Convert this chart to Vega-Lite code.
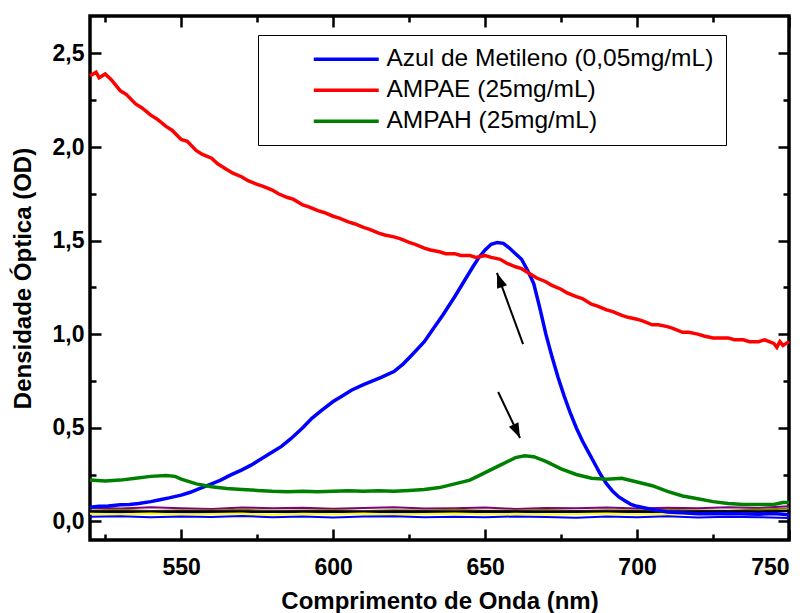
{
  "$schema": "https://vega.github.io/schema/vega-lite/v6.json",
  "width": 699,
  "height": 524,
  "autosize": "none",
  "padding": {"left": 90, "top": 16, "right": 20, "bottom": 73},
  "background": "white",
  "config": {"view": {"stroke": "black", "strokeWidth": 3.5}, "font": "Liberation Sans",
    "axis": {"domain": false, "ticks": false, "grid": true, "gridColor": "black", "gridWidth": 2.5, "gridOpacity": 1, "title": null}},
  "datasets": {
    "main": [
      {"wl":520,"od":0.075,"s":"Azul de Metileno (0,05mg/mL)"},{"wl":523,"od":0.08,"s":"Azul de Metileno (0,05mg/mL)"},{"wl":526,"od":0.082,"s":"Azul de Metileno (0,05mg/mL)"},{"wl":530,"od":0.088,"s":"Azul de Metileno (0,05mg/mL)"},{"wl":533,"od":0.09,"s":"Azul de Metileno (0,05mg/mL)"},{"wl":536,"od":0.095,"s":"Azul de Metileno (0,05mg/mL)"},{"wl":540,"od":0.105,"s":"Azul de Metileno (0,05mg/mL)"},{"wl":543,"od":0.115,"s":"Azul de Metileno (0,05mg/mL)"},{"wl":546,"od":0.125,"s":"Azul de Metileno (0,05mg/mL)"},{"wl":550,"od":0.14,"s":"Azul de Metileno (0,05mg/mL)"},{"wl":553,"od":0.155,"s":"Azul de Metileno (0,05mg/mL)"},{"wl":556,"od":0.175,"s":"Azul de Metileno (0,05mg/mL)"},{"wl":560,"od":0.2,"s":"Azul de Metileno (0,05mg/mL)"},{"wl":563,"od":0.22,"s":"Azul de Metileno (0,05mg/mL)"},{"wl":566,"od":0.245,"s":"Azul de Metileno (0,05mg/mL)"},{"wl":570,"od":0.275,"s":"Azul de Metileno (0,05mg/mL)"},{"wl":573,"od":0.3,"s":"Azul de Metileno (0,05mg/mL)"},{"wl":576,"od":0.33,"s":"Azul de Metileno (0,05mg/mL)"},{"wl":580,"od":0.37,"s":"Azul de Metileno (0,05mg/mL)"},{"wl":583,"od":0.4,"s":"Azul de Metileno (0,05mg/mL)"},{"wl":586,"od":0.44,"s":"Azul de Metileno (0,05mg/mL)"},{"wl":590,"od":0.5,"s":"Azul de Metileno (0,05mg/mL)"},{"wl":593,"od":0.55,"s":"Azul de Metileno (0,05mg/mL)"},{"wl":596,"od":0.59,"s":"Azul de Metileno (0,05mg/mL)"},{"wl":600,"od":0.64,"s":"Azul de Metileno (0,05mg/mL)"},{"wl":603,"od":0.67,"s":"Azul de Metileno (0,05mg/mL)"},{"wl":606,"od":0.7,"s":"Azul de Metileno (0,05mg/mL)"},{"wl":610,"od":0.73,"s":"Azul de Metileno (0,05mg/mL)"},{"wl":613,"od":0.75,"s":"Azul de Metileno (0,05mg/mL)"},{"wl":616,"od":0.77,"s":"Azul de Metileno (0,05mg/mL)"},{"wl":620,"od":0.8,"s":"Azul de Metileno (0,05mg/mL)"},{"wl":623,"od":0.84,"s":"Azul de Metileno (0,05mg/mL)"},{"wl":626,"od":0.89,"s":"Azul de Metileno (0,05mg/mL)"},{"wl":630,"od":0.96,"s":"Azul de Metileno (0,05mg/mL)"},{"wl":633,"od":1.03,"s":"Azul de Metileno (0,05mg/mL)"},{"wl":636,"od":1.1,"s":"Azul de Metileno (0,05mg/mL)"},{"wl":640,"od":1.2,"s":"Azul de Metileno (0,05mg/mL)"},{"wl":643,"od":1.28,"s":"Azul de Metileno (0,05mg/mL)"},{"wl":646,"od":1.36,"s":"Azul de Metileno (0,05mg/mL)"},{"wl":648,"od":1.41,"s":"Azul de Metileno (0,05mg/mL)"},{"wl":650,"od":1.45,"s":"Azul de Metileno (0,05mg/mL)"},{"wl":652,"od":1.48,"s":"Azul de Metileno (0,05mg/mL)"},{"wl":654,"od":1.49,"s":"Azul de Metileno (0,05mg/mL)"},{"wl":656,"od":1.485,"s":"Azul de Metileno (0,05mg/mL)"},{"wl":658,"od":1.46,"s":"Azul de Metileno (0,05mg/mL)"},{"wl":660,"od":1.43,"s":"Azul de Metileno (0,05mg/mL)"},{"wl":662,"od":1.4,"s":"Azul de Metileno (0,05mg/mL)"},{"wl":664,"od":1.34,"s":"Azul de Metileno (0,05mg/mL)"},{"wl":666,"od":1.27,"s":"Azul de Metileno (0,05mg/mL)"},{"wl":668,"od":1.14,"s":"Azul de Metileno (0,05mg/mL)"},{"wl":670,"od":1.0,"s":"Azul de Metileno (0,05mg/mL)"},{"wl":672,"od":0.88,"s":"Azul de Metileno (0,05mg/mL)"},{"wl":674,"od":0.77,"s":"Azul de Metileno (0,05mg/mL)"},{"wl":676,"od":0.67,"s":"Azul de Metileno (0,05mg/mL)"},{"wl":678,"od":0.58,"s":"Azul de Metileno (0,05mg/mL)"},{"wl":680,"od":0.5,"s":"Azul de Metileno (0,05mg/mL)"},{"wl":682,"od":0.43,"s":"Azul de Metileno (0,05mg/mL)"},{"wl":684,"od":0.37,"s":"Azul de Metileno (0,05mg/mL)"},{"wl":686,"od":0.31,"s":"Azul de Metileno (0,05mg/mL)"},{"wl":688,"od":0.25,"s":"Azul de Metileno (0,05mg/mL)"},{"wl":690,"od":0.2,"s":"Azul de Metileno (0,05mg/mL)"},{"wl":692,"od":0.16,"s":"Azul de Metileno (0,05mg/mL)"},{"wl":694,"od":0.13,"s":"Azul de Metileno (0,05mg/mL)"},{"wl":696,"od":0.11,"s":"Azul de Metileno (0,05mg/mL)"},{"wl":698,"od":0.09,"s":"Azul de Metileno (0,05mg/mL)"},{"wl":700,"od":0.08,"s":"Azul de Metileno (0,05mg/mL)"},{"wl":703,"od":0.07,"s":"Azul de Metileno (0,05mg/mL)"},{"wl":706,"od":0.06,"s":"Azul de Metileno (0,05mg/mL)"},{"wl":710,"od":0.05,"s":"Azul de Metileno (0,05mg/mL)"},{"wl":715,"od":0.045,"s":"Azul de Metileno (0,05mg/mL)"},{"wl":720,"od":0.04,"s":"Azul de Metileno (0,05mg/mL)"},{"wl":730,"od":0.042,"s":"Azul de Metileno (0,05mg/mL)"},{"wl":740,"od":0.038,"s":"Azul de Metileno (0,05mg/mL)"},{"wl":745,"od":0.041,"s":"Azul de Metileno (0,05mg/mL)"},{"wl":750,"od":0.035,"s":"Azul de Metileno (0,05mg/mL)"},
      {"wl":520,"od":2.38,"s":"AMPAE (25mg/mL)"},{"wl":522,"od":2.4,"s":"AMPAE (25mg/mL)"},{"wl":523,"od":2.37,"s":"AMPAE (25mg/mL)"},{"wl":525,"od":2.39,"s":"AMPAE (25mg/mL)"},{"wl":527,"od":2.36,"s":"AMPAE (25mg/mL)"},{"wl":530,"od":2.3,"s":"AMPAE (25mg/mL)"},{"wl":532,"od":2.28,"s":"AMPAE (25mg/mL)"},{"wl":535,"od":2.23,"s":"AMPAE (25mg/mL)"},{"wl":537,"od":2.21,"s":"AMPAE (25mg/mL)"},{"wl":540,"od":2.17,"s":"AMPAE (25mg/mL)"},{"wl":542,"od":2.15,"s":"AMPAE (25mg/mL)"},{"wl":545,"od":2.11,"s":"AMPAE (25mg/mL)"},{"wl":547,"od":2.09,"s":"AMPAE (25mg/mL)"},{"wl":550,"od":2.04,"s":"AMPAE (25mg/mL)"},{"wl":552,"od":2.03,"s":"AMPAE (25mg/mL)"},{"wl":555,"od":1.98,"s":"AMPAE (25mg/mL)"},{"wl":557,"od":1.96,"s":"AMPAE (25mg/mL)"},{"wl":560,"od":1.94,"s":"AMPAE (25mg/mL)"},{"wl":562,"od":1.91,"s":"AMPAE (25mg/mL)"},{"wl":565,"od":1.88,"s":"AMPAE (25mg/mL)"},{"wl":567,"od":1.86,"s":"AMPAE (25mg/mL)"},{"wl":570,"od":1.84,"s":"AMPAE (25mg/mL)"},{"wl":572,"od":1.82,"s":"AMPAE (25mg/mL)"},{"wl":575,"od":1.8,"s":"AMPAE (25mg/mL)"},{"wl":577,"od":1.79,"s":"AMPAE (25mg/mL)"},{"wl":580,"od":1.77,"s":"AMPAE (25mg/mL)"},{"wl":582,"od":1.75,"s":"AMPAE (25mg/mL)"},{"wl":585,"od":1.73,"s":"AMPAE (25mg/mL)"},{"wl":587,"od":1.72,"s":"AMPAE (25mg/mL)"},{"wl":590,"od":1.69,"s":"AMPAE (25mg/mL)"},{"wl":592,"od":1.68,"s":"AMPAE (25mg/mL)"},{"wl":595,"od":1.66,"s":"AMPAE (25mg/mL)"},{"wl":597,"od":1.65,"s":"AMPAE (25mg/mL)"},{"wl":600,"od":1.63,"s":"AMPAE (25mg/mL)"},{"wl":602,"od":1.62,"s":"AMPAE (25mg/mL)"},{"wl":605,"od":1.6,"s":"AMPAE (25mg/mL)"},{"wl":607,"od":1.59,"s":"AMPAE (25mg/mL)"},{"wl":610,"od":1.57,"s":"AMPAE (25mg/mL)"},{"wl":612,"od":1.56,"s":"AMPAE (25mg/mL)"},{"wl":615,"od":1.54,"s":"AMPAE (25mg/mL)"},{"wl":617,"od":1.53,"s":"AMPAE (25mg/mL)"},{"wl":620,"od":1.52,"s":"AMPAE (25mg/mL)"},{"wl":622,"od":1.51,"s":"AMPAE (25mg/mL)"},{"wl":625,"od":1.49,"s":"AMPAE (25mg/mL)"},{"wl":627,"od":1.48,"s":"AMPAE (25mg/mL)"},{"wl":630,"od":1.46,"s":"AMPAE (25mg/mL)"},{"wl":632,"od":1.45,"s":"AMPAE (25mg/mL)"},{"wl":635,"od":1.44,"s":"AMPAE (25mg/mL)"},{"wl":637,"od":1.43,"s":"AMPAE (25mg/mL)"},{"wl":640,"od":1.43,"s":"AMPAE (25mg/mL)"},{"wl":642,"od":1.42,"s":"AMPAE (25mg/mL)"},{"wl":645,"od":1.42,"s":"AMPAE (25mg/mL)"},{"wl":647,"od":1.41,"s":"AMPAE (25mg/mL)"},{"wl":650,"od":1.42,"s":"AMPAE (25mg/mL)"},{"wl":652,"od":1.41,"s":"AMPAE (25mg/mL)"},{"wl":655,"od":1.4,"s":"AMPAE (25mg/mL)"},{"wl":657,"od":1.38,"s":"AMPAE (25mg/mL)"},{"wl":660,"od":1.36,"s":"AMPAE (25mg/mL)"},{"wl":662,"od":1.35,"s":"AMPAE (25mg/mL)"},{"wl":665,"od":1.32,"s":"AMPAE (25mg/mL)"},{"wl":667,"od":1.3,"s":"AMPAE (25mg/mL)"},{"wl":670,"od":1.28,"s":"AMPAE (25mg/mL)"},{"wl":672,"od":1.26,"s":"AMPAE (25mg/mL)"},{"wl":675,"od":1.24,"s":"AMPAE (25mg/mL)"},{"wl":677,"od":1.22,"s":"AMPAE (25mg/mL)"},{"wl":680,"od":1.2,"s":"AMPAE (25mg/mL)"},{"wl":682,"od":1.19,"s":"AMPAE (25mg/mL)"},{"wl":685,"od":1.16,"s":"AMPAE (25mg/mL)"},{"wl":687,"od":1.15,"s":"AMPAE (25mg/mL)"},{"wl":690,"od":1.13,"s":"AMPAE (25mg/mL)"},{"wl":692,"od":1.12,"s":"AMPAE (25mg/mL)"},{"wl":695,"od":1.1,"s":"AMPAE (25mg/mL)"},{"wl":697,"od":1.09,"s":"AMPAE (25mg/mL)"},{"wl":700,"od":1.08,"s":"AMPAE (25mg/mL)"},{"wl":702,"od":1.07,"s":"AMPAE (25mg/mL)"},{"wl":705,"od":1.05,"s":"AMPAE (25mg/mL)"},{"wl":707,"od":1.05,"s":"AMPAE (25mg/mL)"},{"wl":710,"od":1.04,"s":"AMPAE (25mg/mL)"},{"wl":712,"od":1.03,"s":"AMPAE (25mg/mL)"},{"wl":715,"od":1.01,"s":"AMPAE (25mg/mL)"},{"wl":717,"od":1.01,"s":"AMPAE (25mg/mL)"},{"wl":720,"od":1.0,"s":"AMPAE (25mg/mL)"},{"wl":722,"od":0.99,"s":"AMPAE (25mg/mL)"},{"wl":725,"od":0.98,"s":"AMPAE (25mg/mL)"},{"wl":727,"od":0.98,"s":"AMPAE (25mg/mL)"},{"wl":730,"od":0.98,"s":"AMPAE (25mg/mL)"},{"wl":732,"od":0.97,"s":"AMPAE (25mg/mL)"},{"wl":735,"od":0.97,"s":"AMPAE (25mg/mL)"},{"wl":737,"od":0.96,"s":"AMPAE (25mg/mL)"},{"wl":740,"od":0.96,"s":"AMPAE (25mg/mL)"},{"wl":742,"od":0.97,"s":"AMPAE (25mg/mL)"},{"wl":745,"od":0.95,"s":"AMPAE (25mg/mL)"},{"wl":746,"od":0.93,"s":"AMPAE (25mg/mL)"},{"wl":747,"od":0.96,"s":"AMPAE (25mg/mL)"},{"wl":748,"od":0.94,"s":"AMPAE (25mg/mL)"},{"wl":750,"od":0.96,"s":"AMPAE (25mg/mL)"},
      {"wl":520,"od":0.22,"s":"AMPAH (25mg/mL)"},{"wl":525,"od":0.215,"s":"AMPAH (25mg/mL)"},{"wl":530,"od":0.22,"s":"AMPAH (25mg/mL)"},{"wl":535,"od":0.23,"s":"AMPAH (25mg/mL)"},{"wl":540,"od":0.24,"s":"AMPAH (25mg/mL)"},{"wl":545,"od":0.245,"s":"AMPAH (25mg/mL)"},{"wl":548,"od":0.24,"s":"AMPAH (25mg/mL)"},{"wl":550,"od":0.225,"s":"AMPAH (25mg/mL)"},{"wl":555,"od":0.2,"s":"AMPAH (25mg/mL)"},{"wl":560,"od":0.185,"s":"AMPAH (25mg/mL)"},{"wl":565,"od":0.175,"s":"AMPAH (25mg/mL)"},{"wl":570,"od":0.17,"s":"AMPAH (25mg/mL)"},{"wl":575,"od":0.165,"s":"AMPAH (25mg/mL)"},{"wl":580,"od":0.16,"s":"AMPAH (25mg/mL)"},{"wl":585,"od":0.158,"s":"AMPAH (25mg/mL)"},{"wl":590,"od":0.16,"s":"AMPAH (25mg/mL)"},{"wl":595,"od":0.158,"s":"AMPAH (25mg/mL)"},{"wl":600,"od":0.16,"s":"AMPAH (25mg/mL)"},{"wl":605,"od":0.163,"s":"AMPAH (25mg/mL)"},{"wl":610,"od":0.16,"s":"AMPAH (25mg/mL)"},{"wl":615,"od":0.163,"s":"AMPAH (25mg/mL)"},{"wl":620,"od":0.16,"s":"AMPAH (25mg/mL)"},{"wl":625,"od":0.165,"s":"AMPAH (25mg/mL)"},{"wl":630,"od":0.17,"s":"AMPAH (25mg/mL)"},{"wl":635,"od":0.18,"s":"AMPAH (25mg/mL)"},{"wl":640,"od":0.2,"s":"AMPAH (25mg/mL)"},{"wl":645,"od":0.22,"s":"AMPAH (25mg/mL)"},{"wl":650,"od":0.26,"s":"AMPAH (25mg/mL)"},{"wl":655,"od":0.3,"s":"AMPAH (25mg/mL)"},{"wl":660,"od":0.34,"s":"AMPAH (25mg/mL)"},{"wl":663,"od":0.35,"s":"AMPAH (25mg/mL)"},{"wl":666,"od":0.345,"s":"AMPAH (25mg/mL)"},{"wl":670,"od":0.32,"s":"AMPAH (25mg/mL)"},{"wl":675,"od":0.28,"s":"AMPAH (25mg/mL)"},{"wl":680,"od":0.25,"s":"AMPAH (25mg/mL)"},{"wl":685,"od":0.23,"s":"AMPAH (25mg/mL)"},{"wl":690,"od":0.225,"s":"AMPAH (25mg/mL)"},{"wl":695,"od":0.23,"s":"AMPAH (25mg/mL)"},{"wl":700,"od":0.21,"s":"AMPAH (25mg/mL)"},{"wl":705,"od":0.19,"s":"AMPAH (25mg/mL)"},{"wl":710,"od":0.16,"s":"AMPAH (25mg/mL)"},{"wl":715,"od":0.135,"s":"AMPAH (25mg/mL)"},{"wl":720,"od":0.12,"s":"AMPAH (25mg/mL)"},{"wl":725,"od":0.105,"s":"AMPAH (25mg/mL)"},{"wl":730,"od":0.095,"s":"AMPAH (25mg/mL)"},{"wl":735,"od":0.09,"s":"AMPAH (25mg/mL)"},{"wl":740,"od":0.09,"s":"AMPAH (25mg/mL)"},{"wl":745,"od":0.09,"s":"AMPAH (25mg/mL)"},{"wl":748,"od":0.1,"s":"AMPAH (25mg/mL)"},{"wl":750,"od":0.1,"s":"AMPAH (25mg/mL)"}
    ],
    "base": [
      {"wl":520,"od":0.072,"s":"p"},{"wl":530,"od":0.068,"s":"p"},{"wl":540,"od":0.075,"s":"p"},{"wl":550,"od":0.07,"s":"p"},{"wl":560,"od":0.066,"s":"p"},{"wl":570,"od":0.074,"s":"p"},{"wl":580,"od":0.069,"s":"p"},{"wl":590,"od":0.072,"s":"p"},{"wl":600,"od":0.067,"s":"p"},{"wl":610,"od":0.071,"s":"p"},{"wl":620,"od":0.075,"s":"p"},{"wl":630,"od":0.068,"s":"p"},{"wl":640,"od":0.07,"s":"p"},{"wl":650,"od":0.073,"s":"p"},{"wl":660,"od":0.066,"s":"p"},{"wl":670,"od":0.071,"s":"p"},{"wl":680,"od":0.069,"s":"p"},{"wl":690,"od":0.074,"s":"p"},{"wl":700,"od":0.068,"s":"p"},{"wl":710,"od":0.072,"s":"p"},{"wl":720,"od":0.07,"s":"p"},{"wl":730,"od":0.075,"s":"p"},{"wl":740,"od":0.071,"s":"p"},{"wl":750,"od":0.08,"s":"p"},
      {"wl":520,"od":0.058,"s":"o"},{"wl":530,"od":0.061,"s":"o"},{"wl":540,"od":0.055,"s":"o"},{"wl":550,"od":0.059,"s":"o"},{"wl":560,"od":0.057,"s":"o"},{"wl":570,"od":0.062,"s":"o"},{"wl":580,"od":0.056,"s":"o"},{"wl":590,"od":0.058,"s":"o"},{"wl":600,"od":0.06,"s":"o"},{"wl":610,"od":0.055,"s":"o"},{"wl":620,"od":0.059,"s":"o"},{"wl":630,"od":0.057,"s":"o"},{"wl":640,"od":0.061,"s":"o"},{"wl":650,"od":0.056,"s":"o"},{"wl":660,"od":0.058,"s":"o"},{"wl":670,"od":0.06,"s":"o"},{"wl":680,"od":0.055,"s":"o"},{"wl":690,"od":0.059,"s":"o"},{"wl":700,"od":0.057,"s":"o"},{"wl":710,"od":0.061,"s":"o"},{"wl":720,"od":0.058,"s":"o"},{"wl":730,"od":0.056,"s":"o"},{"wl":740,"od":0.063,"s":"o"},{"wl":750,"od":0.068,"s":"o"},
      {"wl":520,"od":0.05,"s":"n"},{"wl":530,"od":0.047,"s":"n"},{"wl":540,"od":0.051,"s":"n"},{"wl":550,"od":0.048,"s":"n"},{"wl":560,"od":0.046,"s":"n"},{"wl":570,"od":0.05,"s":"n"},{"wl":580,"od":0.049,"s":"n"},{"wl":590,"od":0.047,"s":"n"},{"wl":600,"od":0.051,"s":"n"},{"wl":610,"od":0.048,"s":"n"},{"wl":620,"od":0.05,"s":"n"},{"wl":630,"od":0.046,"s":"n"},{"wl":640,"od":0.049,"s":"n"},{"wl":650,"od":0.051,"s":"n"},{"wl":660,"od":0.047,"s":"n"},{"wl":670,"od":0.049,"s":"n"},{"wl":680,"od":0.05,"s":"n"},{"wl":690,"od":0.048,"s":"n"},{"wl":700,"od":0.051,"s":"n"},{"wl":710,"od":0.047,"s":"n"},{"wl":720,"od":0.049,"s":"n"},{"wl":730,"od":0.052,"s":"n"},{"wl":740,"od":0.05,"s":"n"},{"wl":750,"od":0.056,"s":"n"},
      {"wl":520,"od":0.053,"s":"k"},{"wl":530,"od":0.054,"s":"k"},{"wl":540,"od":0.052,"s":"k"},{"wl":550,"od":0.053,"s":"k"},{"wl":560,"od":0.054,"s":"k"},{"wl":570,"od":0.053,"s":"k"},{"wl":580,"od":0.052,"s":"k"},{"wl":590,"od":0.054,"s":"k"},{"wl":600,"od":0.053,"s":"k"},{"wl":610,"od":0.052,"s":"k"},{"wl":620,"od":0.054,"s":"k"},{"wl":630,"od":0.053,"s":"k"},{"wl":640,"od":0.052,"s":"k"},{"wl":650,"od":0.053,"s":"k"},{"wl":660,"od":0.054,"s":"k"},{"wl":670,"od":0.052,"s":"k"},{"wl":680,"od":0.053,"s":"k"},{"wl":690,"od":0.054,"s":"k"},{"wl":700,"od":0.053,"s":"k"},{"wl":710,"od":0.052,"s":"k"},{"wl":720,"od":0.053,"s":"k"},{"wl":730,"od":0.054,"s":"k"},{"wl":740,"od":0.053,"s":"k"},{"wl":750,"od":0.055,"s":"k"},
      {"wl":520,"od":0.04,"s":"y"},{"wl":530,"od":0.037,"s":"y"},{"wl":540,"od":0.042,"s":"y"},{"wl":550,"od":0.036,"s":"y"},{"wl":560,"od":0.039,"s":"y"},{"wl":570,"od":0.041,"s":"y"},{"wl":580,"od":0.035,"s":"y"},{"wl":590,"od":0.04,"s":"y"},{"wl":600,"od":0.038,"s":"y"},{"wl":610,"od":0.042,"s":"y"},{"wl":620,"od":0.036,"s":"y"},{"wl":630,"od":0.039,"s":"y"},{"wl":640,"od":0.041,"s":"y"},{"wl":650,"od":0.037,"s":"y"},{"wl":660,"od":0.04,"s":"y"},{"wl":670,"od":0.036,"s":"y"},{"wl":680,"od":0.039,"s":"y"},{"wl":690,"od":0.042,"s":"y"},{"wl":700,"od":0.037,"s":"y"},{"wl":710,"od":0.04,"s":"y"},{"wl":720,"od":0.038,"s":"y"},{"wl":730,"od":0.041,"s":"y"},{"wl":740,"od":0.039,"s":"y"},{"wl":750,"od":0.036,"s":"y"},
      {"wl":520,"od":0.024,"s":"b"},{"wl":530,"od":0.027,"s":"b"},{"wl":540,"od":0.021,"s":"b"},{"wl":550,"od":0.025,"s":"b"},{"wl":560,"od":0.023,"s":"b"},{"wl":570,"od":0.028,"s":"b"},{"wl":580,"od":0.022,"s":"b"},{"wl":590,"od":0.026,"s":"b"},{"wl":600,"od":0.02,"s":"b"},{"wl":610,"od":0.025,"s":"b"},{"wl":620,"od":0.027,"s":"b"},{"wl":630,"od":0.022,"s":"b"},{"wl":640,"od":0.024,"s":"b"},{"wl":650,"od":0.021,"s":"b"},{"wl":660,"od":0.026,"s":"b"},{"wl":670,"od":0.023,"s":"b"},{"wl":680,"od":0.019,"s":"b"},{"wl":690,"od":0.025,"s":"b"},{"wl":700,"od":0.022,"s":"b"},{"wl":710,"od":0.027,"s":"b"},{"wl":720,"od":0.02,"s":"b"},{"wl":730,"od":0.024,"s":"b"},{"wl":740,"od":0.022,"s":"b"},{"wl":750,"od":0.017,"s":"b"}
    ],
    "arrows": [
      {"id":"up","x":662.5,"y":0.947,"x2":653.9,"y2":1.327},
      {"id":"down","x":654.3,"y":0.691,"x2":661.5,"y2":0.445}
    ]
  },
  "layer": [
    {
      "data": {"name": "base"},
      "mark": {"type": "line", "strokeWidth": 2},
      "encoding": {
        "x": {"field": "wl", "type": "quantitative",
          "scale": {"domain": [520, 750], "nice": false, "zero": false},
          "axis": {"orient": "top", "values": [525,550,575,600,625,650,675,700,725,750], "labels": false,
            "gridDash": {"condition": {"test": "datum.value % 50 === 0", "value": [11, 502, 11, 3000]}, "value": [6, 512, 6, 3000]}}},
        "y": {"field": "od", "type": "quantitative",
          "scale": {"domain": [-0.1, 2.7], "nice": false, "zero": false},
          "axis": {"orient": "right", "values": [0,0.25,0.5,0.75,1,1.25,1.5,1.75,2,2.25,2.5], "labels": false,
            "gridDash": {"condition": {"test": "abs(datum.value*2 - round(datum.value*2)) < 0.001", "value": [11, 677, 11, 3000]}, "value": [6, 687, 6, 3000]}}},
        "stroke": {"field": "s", "type": "nominal",
          "scale": {"domain": ["p","o","n","k","y","b"], "range": ["#800080","#808000","#000080","#000000","#ffff00","#0000ff"]},
          "legend": null}
      }
    },
    {
      "data": {"name": "main"},
      "mark": {"type": "line", "strokeWidth": 3.5},
      "encoding": {
        "x": {"field": "wl", "type": "quantitative",
          "scale": {"domain": [520, 750], "nice": false, "zero": false},
          "axis": {"orient": "bottom", "values": [525,550,575,600,625,650,675,700,725,750],
            "gridDash": {"condition": {"test": "datum.value % 50 === 0", "value": [11, 502, 11, 3000]}, "value": [6, 512, 6, 3000]},
            "labelExpr": "datum.value % 50 === 0 ? datum.label : ''",
            "labelFont": "Liberation Sans", "labelFontWeight": "bold", "labelFontSize": 23, "labelColor": "black", "labelPadding": 16,
            "title": "Comprimento de Onda (nm)", "titleFont": "Liberation Sans", "titleFontWeight": "bold", "titleFontSize": 24, "titleColor": "black", "titlePadding": 10}},
        "y": {"field": "od", "type": "quantitative",
          "scale": {"domain": [-0.1, 2.7], "nice": false, "zero": false},
          "axis": {"orient": "left", "values": [0,0.25,0.5,0.75,1,1.25,1.5,1.75,2,2.25,2.5],
            "gridDash": {"condition": {"test": "abs(datum.value*2 - round(datum.value*2)) < 0.001", "value": [11, 677, 11, 3000]}, "value": [6, 687, 6, 3000]},
            "labelExpr": "abs(datum.value*2 - round(datum.value*2)) < 0.001 ? replace(format(datum.value, '.1f'), '.', ',') : ''",
            "labelFont": "Liberation Sans", "labelFontWeight": "bold", "labelFontSize": 23, "labelColor": "black", "labelPadding": 6,
            "title": "Densidade Óptica (OD)", "titleFont": "Liberation Sans", "titleFontWeight": "bold", "titleFontSize": 24, "titleColor": "black", "titlePadding": 17}},
        "color": {"field": "s", "type": "nominal",
          "scale": {"domain": ["Azul de Metileno (0,05mg/mL)","AMPAE (25mg/mL)","AMPAH (25mg/mL)"], "range": ["#0000ff","#ff0000","#008000"]},
          "legend": {"orient": "none", "legendX": 168, "legendY": 19, "title": null,
            "strokeColor": "black", "fillColor": "white", "padding": 12,
            "symbolType": "M-3.25,0H3.25", "symbolSize": 400, "symbolStrokeWidth": 3.5, "symbolOffset": 64,
            "labelFont": "Liberation Sans", "labelFontSize": 24.5, "labelColor": "black", "labelOffset": 28, "labelLimit": 600, "rowPadding": 6}}
      }
    },
    {
      "data": {"name": "arrows"},
      "mark": {"type": "rule", "strokeWidth": 2, "color": "black"},
      "encoding": {
        "x": {"field": "x", "type": "quantitative", "axis": null},
        "y": {"field": "y", "type": "quantitative", "axis": null},
        "x2": {"field": "x2"},
        "y2": {"field": "y2"}
      }
    },
    {
      "data": {"name": "arrows"},
      "transform": [{"filter": "datum.id === 'up'"}],
      "mark": {"type": "point", "shape": "M0,0L0.35,1L-0.35,1Z", "filled": true, "color": "black", "opacity": 1, "size": 900, "angle": 340},
      "encoding": {
        "x": {"field": "x2", "type": "quantitative", "axis": null},
        "y": {"field": "y2", "type": "quantitative", "axis": null}
      }
    },
    {
      "data": {"name": "arrows"},
      "transform": [{"filter": "datum.id === 'down'"}],
      "mark": {"type": "point", "shape": "M0,0L0.35,1L-0.35,1Z", "filled": true, "color": "black", "opacity": 1, "size": 900, "angle": 155},
      "encoding": {
        "x": {"field": "x2", "type": "quantitative", "axis": null},
        "y": {"field": "y2", "type": "quantitative", "axis": null}
      }
    }
  ],
  "resolve": {"axis": {"x": "independent", "y": "independent"}}
}
